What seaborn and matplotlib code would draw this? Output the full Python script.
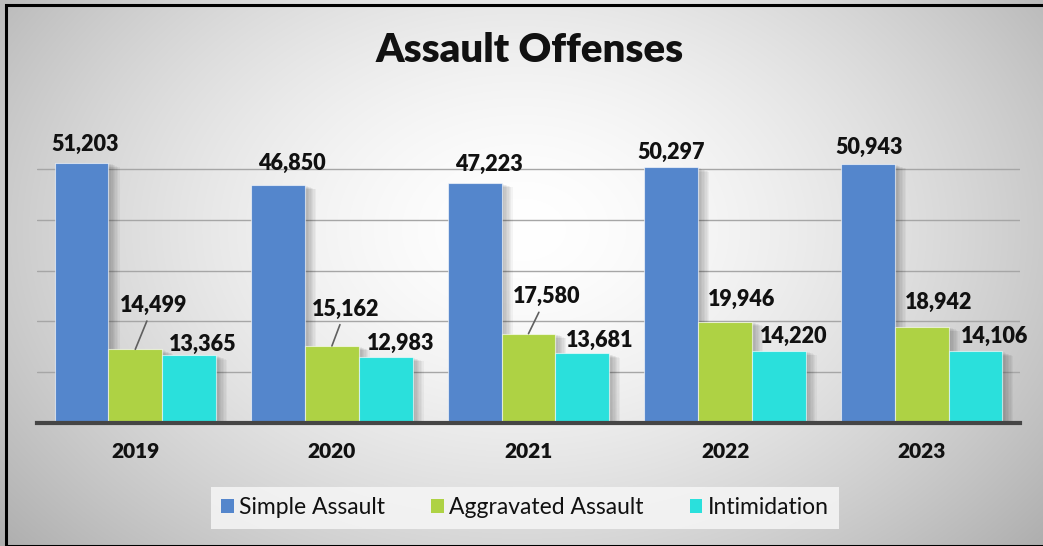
import numpy as np
import pandas as pd
import matplotlib
matplotlib.use("Agg")
import matplotlib.pyplot as plt
import matplotlib.patheffects as pe
from matplotlib.patches import Rectangle
import seaborn as sns

# ---- data ----
years = ["2019", "2020", "2021", "2022", "2023"]
series = ["Simple Assault", "Aggravated Assault", "Intimidation"]
simple_assault = [51203, 46850, 47223, 50297, 50943]
aggravated_assault = [14499, 15162, 17580, 19946, 18942]
intimidation = [13365, 12983, 13681, 14220, 14106]
title = "Assault Offenses"

colors = ["#5486CC", "#AED244", "#2AE0DC"]

# label offsets (pixels) relative to bar top-centre: (dx, dy) for text centre
blue_off = [(4, 18), (14, 21), (14, 19), (0, 15), (1, 17)]
green_off = [(18, 44), (14, 37), (18, 37), (16, 22), (17, 24)]
green_leader = [True, True, True, False, False]
cyan_off = [(14, 11), (15, 14), (17, 13), (15, 14), (19, 15)]

df = pd.DataFrame({
    "Year": years * 3,
    "Offense": [series[0]] * 5 + [series[1]] * 5 + [series[2]] * 5,
    "Count": simple_assault + aggravated_assault + intimidation,
})

sns.set_theme(style="white")
plt.rcParams["font.family"] = ["Lato", "DejaVu Sans"]

W, H = 1043, 546
fig = plt.figure(figsize=(W / 100, H / 100), dpi=100)

# background radial gradient
bg = fig.add_axes([0, 0, 1, 1], zorder=-10)
yy, xx = np.mgrid[0:H, 0:W]
cx, cy = W * 0.5, H * 0.42
r = np.sqrt(((xx - cx) / (W * 0.55)) ** 2 + ((yy - cy) / (H * 0.75)) ** 2)
val = np.clip(1.0 - 0.24 * r ** 1.6, 0, 1)
bg.imshow(np.dstack([val, val, val]), aspect="auto", extent=[0, 1, 0, 1], origin="upper")
bg.axis("off")

ax = fig.add_axes([37 / W, 123 / H, 983 / W, 305 / H])
ax.patch.set_alpha(0)

sns.barplot(data=df, x="Year", y="Count", hue="Offense", palette=colors,
            width=0.82, ax=ax, legend=False, saturation=1,
            edgecolor=(1, 1, 1, 0.6), linewidth=0.8, zorder=3)

shadow = [pe.SimplePatchShadow(offset=(k, -k * 0.4), shadow_rgbFace="k", alpha=0.045)
          for k in (2, 3, 4, 5, 6, 7, 8)]
for p in ax.patches:
    p.set_path_effects(shadow + [pe.Normal()])

ax.set_ylim(0, 60000)
ax.set_xlim(-0.5, 4.5)
ax.set_yticks([10000, 20000, 30000, 40000, 50000])
ax.set_yticklabels([])
ax.tick_params(axis="y", length=0)
ax.grid(axis="y", color="#a6a6a6", linewidth=1.0, zorder=0)
ax.set_axisbelow(True)
for s in ["top", "right", "left"]:
    ax.spines[s].set_visible(False)
ax.spines["bottom"].set_color("#454545")
ax.spines["bottom"].set_linewidth(3)
ax.spines["bottom"].set_zorder(5)
ax.set_xlabel("")
ax.set_ylabel("")
ax.tick_params(axis="x", length=0, pad=14)
for t in ax.get_xticklabels():
    t.set_fontweight("heavy")
    t.set_fontsize(15)
    t.set_color("#111111")

containers = ax.containers
label_kw = dict(textcoords="offset pixels", ha="center", va="center",
                fontsize=15.5, fontweight="heavy", color="#111111", zorder=6)

def fmt(v):
    return f"{v:,}"

for i, bar in enumerate(containers[0]):
    x = bar.get_x() + bar.get_width() / 2
    h = bar.get_height()
    dx, dy = blue_off[i]
    ax.annotate(fmt(simple_assault[i]), (x, h), xytext=(dx, dy), **label_kw)

for i, bar in enumerate(containers[1]):
    x = bar.get_x() + bar.get_width() / 2
    h = bar.get_height()
    dx, dy = green_off[i]
    if green_leader[i]:
        ax.annotate(fmt(aggravated_assault[i]), (x, h), xytext=(dx, dy),
                    arrowprops=dict(arrowstyle="-", color="#5f5f5f", lw=1.2,
                                    shrinkA=1.5, shrinkB=0),
                    **label_kw)
    else:
        ax.annotate(fmt(aggravated_assault[i]), (x, h), xytext=(dx, dy), **label_kw)

for i, bar in enumerate(containers[2]):
    x = bar.get_x() + bar.get_width() / 2
    h = bar.get_height()
    dx, dy = cyan_off[i]
    ax.annotate(fmt(intimidation[i]), (x, h), xytext=(dx, dy), **label_kw)

fig.text(530 / W, 1 - 50 / H, title, ha="center", va="center",
         fontsize=29, fontweight="heavy", color="#111111")

handles = [Rectangle((0, 0), 1, 1, facecolor=c, edgecolor="none") for c in colors]
leg = fig.legend(handles, series, loc="center", bbox_to_anchor=(525 / W, 1 - 508 / H),
                 ncol=3, frameon=True, fontsize=16.5, handlelength=0.55, handleheight=0.55,
                 handletextpad=0.25, columnspacing=2.0, borderpad=0.45,
                 borderaxespad=0, fancybox=False)
leg.get_frame().set_facecolor("#f6f6f6")
leg.get_frame().set_edgecolor("none")
leg.get_frame().set_alpha(0.85)
for t in leg.get_texts():
    t.set_color("#111111")

# outer border
fig.patches.append(Rectangle((6 / W, 0.5 / H), 1.2, 1 - 5.5 / H, transform=fig.transFigure,
                             fill=False, edgecolor="#000000", linewidth=2.2, zorder=20))

fig.savefig("out.png", dpi=100)
